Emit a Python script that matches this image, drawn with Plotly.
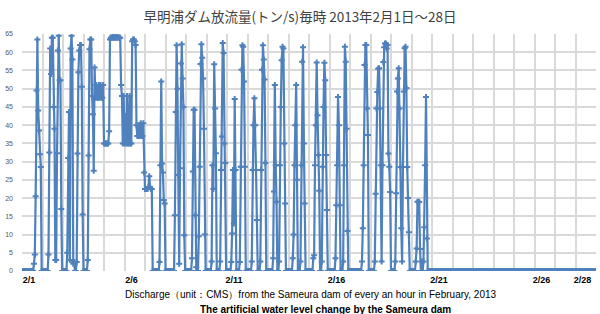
import pandas as pd
import plotly.graph_objects as go

# Hourly discharge (t/s), one list per day (24 hours each)
feb01 = [0, 0, 0, 0, 0, 0, 0, 0, 0, 0, 0, 0, 0, 0, 2, 4.5, 20.5, 49.5, 63.5, 44, 38.5, 32, 28.5, 0]
feb02 = [0, 0, 0, 0, 0, 0, 0, 4.5, 32.5, 61, 54, 64, 64, 45, 39, 3, 3, 32.3, 60.5, 64.5, 52.3, 52.3, 17, 0]
feb03 = [0, 0, 0, 0, 0, 5, 31, 43.6, 3, 61, 64.5, 58, 2, 2.5, 0, 0, 2.5, 32.2, 54.5, 60.5, 62, 62, 50.5, 15.5]
feb04 = [0, 0, 0, 0, 0, 3, 31.7, 60.8, 63.5, 63.5, 48, 43, 27.5, 55.8, 47.5, 51, 47.5, 47.5, 51, 47.5, 51, 47.5, 47.5, 51]
feb05 = [35, 35, 35, 35, 35, 35, 38.3, 63.5, 64, 64, 64.5, 64, 64, 64.5, 64, 64, 64.5, 64, 64, 64, 51, 48, 35, 48]
feb06 = [35, 42.5, 35, 48, 35, 35, 48, 35, 35, 63, 63.5, 63.5, 63, 62, 40, 37, 37, 40, 37, 40.5, 37, 37, 40.5, 27]
feb07 = [22.5, 22.5, 22.5, 22.5, 23, 26, 23, 22.5, 22.5, 0, 0, 0, 0, 0, 0, 0, 0, 2.5, 29, 52, 29.5, 27, 19.5, 18.5]
feb08 = [0, 0, 0, 0, 0, 0, 0, 0, 0, 0, 0, 15.3, 43.6, 61.9, 50, 26.3, 2, 28.2, 56.9, 62.2, 52.8, 45, 9.8, 0]
feb09 = [0, 0, 0, 0, 0, 0, 0, 3.5, 27.3, 44.2, 44.2, 15.3, 1, 0, 0, 9.5, 28.6, 56.8, 62.2, 58.5, 52.8, 39, 10, 0]
feb10 = [0, 0, 0, 0, 0, 0, 2.6, 29, 22.5, 56.7, 44.6, 32.3, 0, 0, 0, 0, 2.6, 27.7, 36.9, 62.5, 59.8, 35, 29.6, 0]
feb11 = [0, 0, 0, 0, 0, 2.5, 10.3, 27.7, 13, 47.2, 27.7, 0, 0, 0, 0, 2.5, 28.6, 55.2, 61.9, 61.5, 52, 28.6, 0, 0]
feb12 = [0, 0, 0, 0, 0, 2.6, 27.7, 40, 47.4, 40, 27.7, 14, 0, 0, 0, 2.6, 27.7, 55.2, 61.9, 58, 52.5, 29.6, 0, 0]
feb13 = [0, 0, 0, 0, 0, 0, 3.5, 21.8, 51, 29, 19, 0, 0, 2.6, 29, 45, 57.8, 61.5, 61, 35, 18.5, 0, 0, 0]
feb14 = [0, 0, 0, 0, 0, 3.5, 10, 29, 40, 51, 25, 0, 0, 0, 2.6, 29, 57.4, 61.4, 35, 18.5, 0, 0, 0, 0]
feb15 = [0, 0, 0, 0, 0, 3.5, 4.3, 29, 40, 57.2, 42.7, 31.8, 22, 0, 0, 2.6, 28.6, 45, 57.1, 52.3, 31.8, 16.7, 0, 0]
feb16 = [0, 0, 0, 0, 0, 0, 0, 3.5, 18, 29, 47.7, 40, 18, 0, 0, 0, 2.6, 29, 61.5, 57.4, 39, 11, 0, 0]
feb17 = [0, 0, 0, 0, 0, 0, 0, 0, 0, 0, 0, 0, 0, 0, 2.6, 11.7, 29, 56.5, 62, 62, 44.6, 37.3, 0, 0]
feb18 = [0, 0, 0, 0, 0, 2.6, 21.2, 44.6, 49.1, 55.5, 55.6, 44.6, 29, 2.6, 29, 57.3, 61.4, 62.4, 62.4, 61, 62, 32.2, 28.6, 21.7]
feb19 = [0, 0, 0, 0, 0, 2.6, 21.3, 49.2, 52.8, 55.6, 44.6, 28.5, 11.7, 2.6, 28.5, 49.2, 61.1, 61.5, 50.2, 28.5, 20, 10.6, 0, 0]
feb20 = [0, 0, 0, 0, 0, 2.6, 6.2, 19, 19, 18.9, 6, 0, 2.6, 0, 2.6, 12, 29, 47.7, 8.9, 0, 0, 0, 0, 0]
feb21 = [0, 0, 0, 0, 0, 0, 0, 0, 0, 0, 0, 0, 0, 0, 0, 0, 0, 0, 0, 0, 0, 0, 0, 0]
feb22 = [0, 0, 0, 0, 0, 0, 0, 0, 0, 0, 0, 0, 0, 0, 0, 0, 0, 0, 0, 0, 0, 0, 0, 0]
feb23 = [0, 0, 0, 0, 0, 0, 0, 0, 0, 0, 0, 0, 0, 0, 0, 0, 0, 0, 0, 0, 0, 0, 0, 0]
feb24 = [0, 0, 0, 0, 0, 0, 0, 0, 0, 0, 0, 0, 0, 0, 0, 0, 0, 0, 0, 0, 0, 0, 0, 0]
feb25 = [0, 0, 0, 0, 0, 0, 0, 0, 0, 0, 0, 0, 0, 0, 0, 0, 0, 0, 0, 0, 0, 0, 0, 0]
feb26 = [0, 0, 0, 0, 0, 0, 0, 0, 0, 0, 0, 0, 0, 0, 0, 0, 0, 0, 0, 0, 0, 0, 0, 0]
feb27 = [0, 0, 0, 0, 0, 0, 0, 0, 0, 0, 0, 0, 0, 0, 0, 0, 0, 0, 0, 0, 0, 0, 0, 0]
feb28 = [0, 0, 0, 0, 0, 0, 0, 0, 0, 0, 0, 0, 0, 0, 0, 0, 0, 0, 0, 0, 0, 0, 0, 0]

days = [feb01, feb02, feb03, feb04, feb05, feb06, feb07, feb08, feb09, feb10,
        feb11, feb12, feb13, feb14, feb15, feb16, feb17, feb18, feb19, feb20,
        feb21, feb22, feb23, feb24, feb25, feb26, feb27, feb28]
discharge = [v for d in days for v in d]
times = pd.date_range("2013-02-01 00:00", periods=len(discharge), freq="h")

day_ticks = pd.date_range("2013-02-01", "2013-03-01", freq="D")
labelled = {"2013-02-01": "2/1", "2013-02-06": "2/6", "2013-02-11": "2/11",
            "2013-02-16": "2/16", "2013-02-21": "2/21", "2013-02-26": "2/26",
            "2013-02-28": "2/28"}
tick_text = [labelled.get(d.strftime("%Y-%m-%d"), "") for d in day_ticks]

title_text = "早明浦ダム放流量(トン/s)毎時 2013年2月1日～28日"
caption1 = "Discharge（unit：CMS）from the Sameura dam of every an hour in February, 2013"
caption2 = "The artificial water level change by the Sameura dam"

BLUE = "#4F81BD"
GRID = "#D9D9D9"

fig = go.Figure(go.Scatter(
    x=times, y=discharge, mode="lines+markers",
    line=dict(color=BLUE, width=2.2),
    marker=dict(symbol="cross", size=5, color=BLUE),
    showlegend=False,
))

fig.update_layout(
    width=600, height=314,
    margin=dict(l=22, r=4, t=34, b=43),
    paper_bgcolor="white", plot_bgcolor="white",
    title=dict(text=title_text, x=0.5, xanchor="center", y=0.945, yanchor="middle",
               font=dict(family="Noto Sans CJK JP", size=13.5, color="#404040")),
    xaxis=dict(
        range=[day_ticks[0], day_ticks[-1]],
        tickvals=list(day_ticks), ticktext=tick_text,
        showgrid=True, gridcolor=GRID, gridwidth=1.5,
        zeroline=False, showline=False, ticks="",
        ticklabelshift=7, ticklabelstandoff=2,
        tickfont=dict(family="Liberation Sans", size=9, color="#000000", weight="bold"),
    ),
    yaxis=dict(
        range=[0, 65], dtick=5, tick0=0,
        showgrid=True, gridcolor=GRID, gridwidth=1.5,
        zeroline=False, showline=False, ticks="",
        ticklabelstandoff=8,
        tickfont=dict(family="Liberation Sans", size=7, color="#595959"),
    ),
    annotations=[
        dict(text=caption1, xref="paper", yref="paper", x=0.503, y=-0.1, xanchor="center",
             yanchor="middle", showarrow=False,
             font=dict(family="Liberation Sans", size=10, color="#000000")),
        dict(text=caption2, xref="paper", yref="paper", x=0.528, y=-0.163, xanchor="center",
             yanchor="middle", showarrow=False,
             font=dict(family="Liberation Sans", size=10, color="#000000", weight="bold")),
    ],
)

fig.write_html("out.html")
